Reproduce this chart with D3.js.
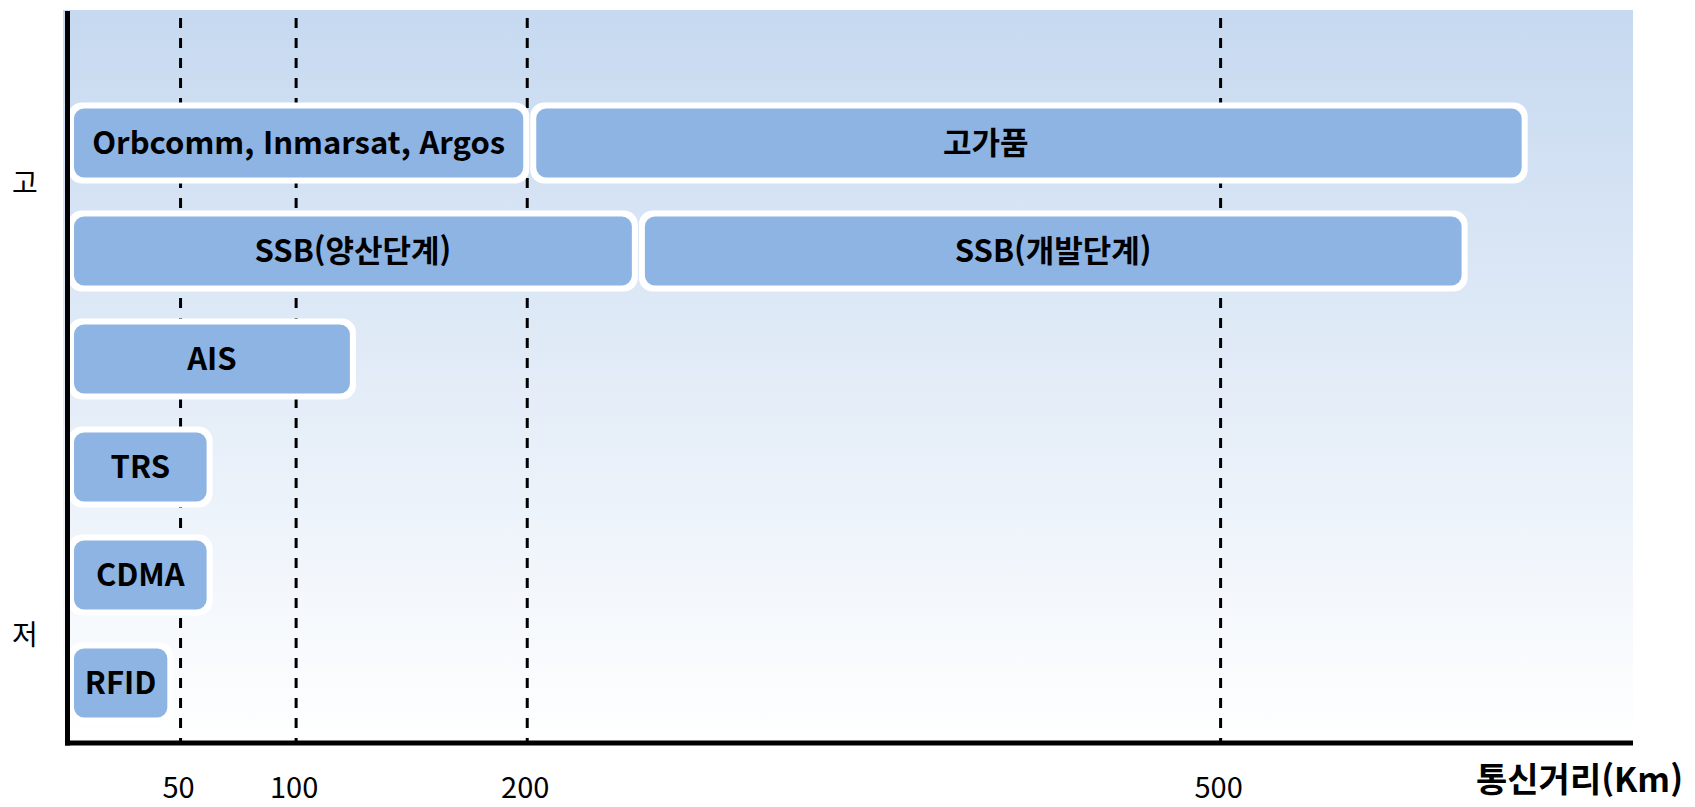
<!DOCTYPE html>
<html lang="ko">
<head>
<meta charset="utf-8">
<title>통신거리 비교</title>
<script src="https://d3js.org/d3.v7.min.js"></script>
<style>
  body { margin: 0; background: #fff; }
  svg text { font-family: "Noto Sans CJK KR", "Noto Sans", sans-serif; fill: #000; }
</style>
</head>
<body>
<svg width="1695" height="807"></svg>
<script>
// 행 (위에서 아래 순서)
var rows = ["위성", "SSB", "AIS", "TRS", "CDMA", "RFID"];

// 막대: 이름, 행, 시작/끝 거리(Km)
var barNames = ["Orbcomm, Inmarsat, Argos", "고가품", "SSB(양산단계)", "SSB(개발단계)", "AIS", "TRS", "CDMA", "RFID"];
var barRows  = ["위성", "위성", "SSB", "SSB", "AIS", "TRS", "CDMA", "RFID"];
var barFrom  = [0, 200, 0, 247, 0, 0, 0, 0];
var barTo    = [200, 632, 247, 606, 125, 63, 63, 46];
// 라벨 위치(Km), null 이면 막대 가운데
var labelAt  = [null, 398, null, null, null, null, null, null];

// x축 눈금
var ticks = [50, 100, 200, 500];
var tickLabels = ["50", "100", "200", "500"];

// y축 (가격) 라벨
var levelNames = ["고", "저"];
var levelValues = [1, 0];

var axisTitle = "통신거리(Km)";

var svg = d3.select("svg");

var x = d3.scaleLinear().domain([0, 678]).range([66, 1633]);
var y = d3.scaleBand().domain(rows).range([89, 737]).paddingInner(0.25).paddingOuter(0.125);
var level = d3.scaleLinear().domain([0, 1]).range([635, 183]);

var plotTop = 10, plotBottom = 743, axisX = 67.5;

// 배경 그라데이션
var grad = svg.append("defs").append("linearGradient")
    .attr("id", "bg").attr("x1", 0).attr("y1", 0).attr("x2", 0).attr("y2", 1);
grad.append("stop").attr("offset", "0%").attr("stop-color", "#c6d9f0");
grad.append("stop").attr("offset", "100%").attr("stop-color", "#ffffff");

svg.append("rect")
    .attr("x", 63).attr("y", plotTop)
    .attr("width", x.range()[1] - 63).attr("height", plotBottom - plotTop)
    .attr("fill", "url(#bg)");

// 점선 눈금
svg.selectAll("line.grid")
    .data(ticks)
    .join("line")
    .attr("class", "grid")
    .attr("x1", function(d){ return x(d) - 1; })
    .attr("x2", function(d){ return x(d) - 1; })
    .attr("y1", 18).attr("y2", plotBottom - 2)
    .attr("stroke", "#000")
    .attr("stroke-width", 3)
    .attr("stroke-dasharray", "10,10");

// 막대 데이터
var bars = barNames.map(function(n, i){
    return {name: n, row: barRows[i], from: barFrom[i], to: barTo[i], at: labelAt[i]};
});

var border = 6;

var g = svg.selectAll("g.bar").data(bars).join("g").attr("class", "bar");

// 흰 테두리
g.append("rect")
    .attr("x", function(d){ return x(d.from) + 2; })
    .attr("y", function(d){ return y(d.row); })
    .attr("width", function(d){ return x(d.to) - x(d.from) - 1; })
    .attr("height", y.bandwidth())
    .attr("rx", 14)
    .attr("fill", "#ffffff");

// 파란 막대
g.append("rect")
    .attr("x", function(d){ return x(d.from) + 2 + border; })
    .attr("y", function(d){ return y(d.row) + border; })
    .attr("width", function(d){ return x(d.to) - x(d.from) - 1 - 2 * border; })
    .attr("height", y.bandwidth() - 2 * border)
    .attr("rx", 10)
    .attr("fill", "#8eb4e3");

g.append("text")
    .attr("x", function(d){
        return d.at != null ? x(d.at) : (x(d.from) + x(d.to)) / 2 + 1.5;
    })
    .attr("y", function(d){ return y(d.row) + y.bandwidth() / 2; })
    .attr("dy", "0.35em")
    .attr("text-anchor", "middle")
    .style("font-size", "31px")
    .style("font-weight", "bold")
    .text(function(d){ return d.name; });

// 축
svg.append("line")
    .attr("x1", axisX).attr("x2", axisX)
    .attr("y1", 11).attr("y2", plotBottom + 2.5)
    .attr("stroke", "#000").attr("stroke-width", 5);
svg.append("line")
    .attr("x1", 65).attr("x2", x.range()[1])
    .attr("y1", plotBottom).attr("y2", plotBottom)
    .attr("stroke", "#000").attr("stroke-width", 5);

// 눈금 라벨
svg.selectAll("text.tick")
    .data(ticks)
    .join("text")
    .attr("class", "tick")
    .attr("x", function(d){ return x(d) - 3; })
    .attr("y", 798)
    .attr("text-anchor", "middle")
    .style("font-size", "29px")
    .text(function(d, i){ return tickLabels[i]; });

// 고 / 저
svg.selectAll("text.level")
    .data(levelNames)
    .join("text")
    .attr("class", "level")
    .attr("x", 25)
    .attr("y", function(d, i){ return level(levelValues[i]); })
    .attr("dy", "0.35em")
    .attr("text-anchor", "middle")
    .style("font-size", "28px")
    .text(function(d){ return d; });

svg.append("text")
    .attr("x", 1683).attr("y", 792)
    .attr("text-anchor", "end")
    .style("font-size", "34px")
    .style("font-weight", "bold")
    .text(axisTitle);
</script>
</body>
</html>
